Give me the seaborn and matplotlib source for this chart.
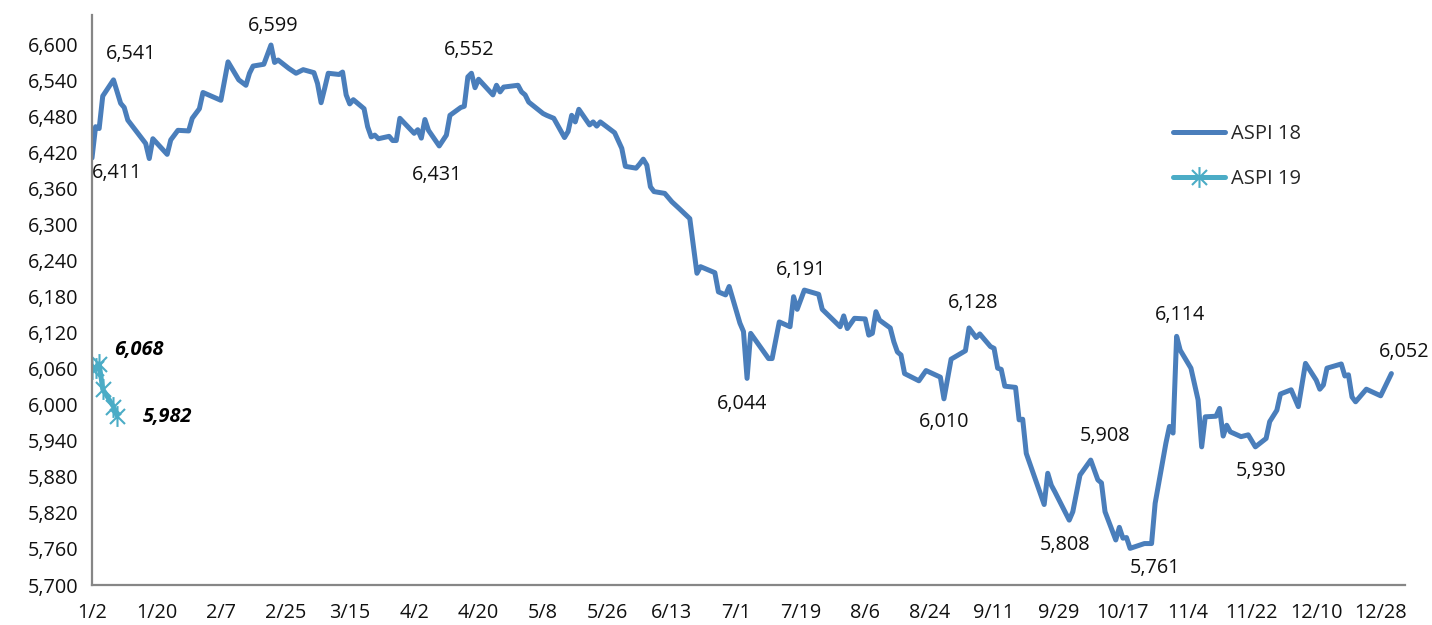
import datetime as dt

import matplotlib
matplotlib.use("Agg")
import matplotlib.pyplot as plt
import matplotlib.dates as mdates
from matplotlib.path import Path
import pandas as pd
import seaborn as sns

# ---- data -------------------------------------------------------------
aspi18_dates = [
    "01/02", "01/03", "01/04", "01/05", "01/08", "01/10", "01/11", "01/12",
    "01/16", "01/17", "01/18", "01/19", "01/23", "01/24", "01/26", "01/29",
    "01/30", "02/01", "02/02", "02/07", "02/09", "02/12", "02/14", "02/15",
    "02/16", "02/19", "02/21", "02/22", "02/23", "02/26", "02/28", "03/02",
    "03/05", "03/06", "03/07", "03/08", "03/09", "03/12", "03/13", "03/14",
    "03/15", "03/16", "03/19", "03/20", "03/21", "03/22", "03/23", "03/26",
    "03/27", "03/28", "03/29", "04/02", "04/03", "04/04", "04/05", "04/06",
    "04/09", "04/11", "04/12", "04/15", "04/16", "04/17", "04/18", "04/19",
    "04/20", "04/24", "04/25", "04/26", "04/27", "05/01", "05/02", "05/03",
    "05/04", "05/08", "05/09", "05/11", "05/14", "05/15", "05/16", "05/17",
    "05/18", "05/21", "05/22", "05/23", "05/24", "05/28", "05/30", "05/31",
    "06/03", "06/04", "06/05", "06/06", "06/07", "06/08", "06/11", "06/13",
    "06/15", "06/18", "06/20", "06/21", "06/25", "06/26", "06/28", "06/29",
    "07/02", "07/03", "07/04", "07/05", "07/10", "07/11", "07/13", "07/16",
    "07/17", "07/18", "07/20", "07/24", "07/25", "07/30", "07/31", "08/01",
    "08/03", "08/06", "08/07", "08/08", "08/09", "08/10", "08/13", "08/14",
    "08/15", "08/16", "08/17", "08/21", "08/23", "08/27", "08/28", "08/30",
    "09/03", "09/04", "09/06", "09/07", "09/10", "09/11", "09/12", "09/13",
    "09/14", "09/17", "09/18", "09/19", "09/20", "09/25", "09/26", "09/27",
    "09/28", "10/02", "10/03", "10/05", "10/08", "10/10", "10/11", "10/12",
    "10/15", "10/16", "10/17", "10/18", "10/19", "10/23", "10/25", "10/26",
    "10/29", "10/30", "10/31", "11/01", "11/02", "11/05", "11/07", "11/08",
    "11/09", "11/12", "11/13", "11/14", "11/15", "11/16", "11/19", "11/21",
    "11/23", "11/26", "11/27", "11/29", "11/30", "12/03", "12/05", "12/07",
    "12/10", "12/11", "12/12", "12/13", "12/17", "12/18", "12/19", "12/20",
    "12/21", "12/24", "12/28", "12/31",
]
aspi18_values = [
    6411, 6463, 6460, 6514, 6541, 6502, 6495, 6474,
    6443, 6435, 6410, 6443, 6417, 6441, 6457, 6456,
    6477, 6493, 6520, 6507, 6571, 6541, 6532, 6552,
    6564, 6567, 6599, 6570, 6574, 6560, 6552, 6558,
    6553, 6535, 6503, 6527, 6552, 6550, 6554, 6516,
    6501, 6508, 6493, 6463, 6446, 6449, 6443, 6447,
    6440, 6440, 6477, 6452, 6458, 6444, 6475, 6457,
    6431, 6449, 6482, 6495, 6497, 6546, 6552, 6528,
    6542, 6516, 6532, 6521, 6529, 6532, 6521, 6516,
    6504, 6485, 6482, 6477, 6445, 6455, 6482, 6471,
    6492, 6466, 6471, 6464, 6471, 6453, 6427, 6397,
    6394, 6401, 6409, 6399, 6363, 6355, 6352, 6338,
    6327, 6310, 6219, 6230, 6220, 6188, 6183, 6197,
    6136, 6122, 6044, 6119, 6077, 6077, 6138, 6130,
    6180, 6159, 6191, 6184, 6159, 6130, 6148, 6127,
    6144, 6143, 6116, 6119, 6155, 6141, 6128, 6105,
    6088, 6083, 6052, 6040, 6057, 6046, 6010, 6076,
    6090, 6128, 6112, 6118, 6097, 6094, 6061, 6059,
    6031, 6029, 5975, 5976, 5919, 5834, 5886, 5866,
    5855, 5808, 5822, 5883, 5908, 5875, 5870, 5822,
    5775, 5796, 5778, 5779, 5761, 5769, 5769, 5836,
    5936, 5964, 5953, 6114, 6091, 6061, 6008, 5930,
    5980, 5981, 5994, 5948, 5966, 5955, 5947, 5950,
    5930, 5944, 5972, 5991, 6018, 6025, 5997, 6069,
    6041, 6026, 6033, 6061, 6068, 6048, 6050, 6013,
    6005, 6026, 6015, 6052,
]
aspi19_dates = ["01/02", "01/03", "01/04", "01/05", "01/08", "01/09"]
aspi19_values = [6060, 6062, 6068, 6026, 5997, 5982]

series_names = ["ASPI 18", "ASPI 19"]
y_ticks = list(range(5700, 6601, 60))

# points that carry a value label, with label offsets (pixels)
callouts_18 = {
    "01/02": (25, -15), "01/08": (18, 26), "02/21": (2, 19),
    "04/09": (-2, -29), "04/18": (-2, 23), "07/04": (-5, -26),
    "07/20": (-3, 20), "08/28": (0, -23), "09/04": (4, 25),
    "10/02": (-4, -25), "10/08": (14, 24), "10/19": (25, -20),
    "11/01": (3, 21), "11/23": (6, -24), "12/31": (13, 22),
}
callouts_19 = {"01/04": (40, 14), "01/09": (50, -1)}


def to_date(md):
    m, d = md.split("/")
    return pd.Timestamp(2018, int(m), int(d))


df = pd.concat([
    pd.DataFrame({"date": [to_date(s) for s in aspi18_dates],
                  "value": aspi18_values, "series": series_names[0]}),
    pd.DataFrame({"date": [to_date(s) for s in aspi19_dates],
                  "value": aspi19_values, "series": series_names[1]}),
], ignore_index=True)

# ---- style ------------------------------------------------------------
sns.set_theme(style="white")
plt.rcParams["font.family"] = ["Open Sans", "DejaVu Sans"]

c18 = "#4A7EBB"
c19 = "#4BACC6"
axis_grey = "#868686"
fs = 14.3

# asterisk marker: vertical bar crossed by an X
star = Path(
    [(0, -1), (0, 1), (-0.72, -0.72), (0.72, 0.72), (-0.72, 0.72), (0.72, -0.72)],
    [Path.MOVETO, Path.LINETO, Path.MOVETO, Path.LINETO, Path.MOVETO, Path.LINETO],
)

fig = plt.figure(figsize=(14.32, 6.25), dpi=100)
ax = fig.add_axes([92 / 1432, 1 - 585 / 625, (1405 - 92) / 1432, (585 - 15) / 625])

sns.lineplot(data=df[df.series == series_names[0]], x="date", y="value",
             color=c18, lw=3.6, ax=ax, label=series_names[0],
             solid_capstyle="round", solid_joinstyle="round")
sns.lineplot(data=df[df.series == series_names[1]], x="date", y="value",
             color=c19, lw=3.6, ax=ax, label=series_names[1],
             marker=star, markersize=15, markeredgewidth=1.5,
             markeredgecolor=c19, markerfacecolor="none",
             solid_capstyle="round")

# ---- axes -------------------------------------------------------------
start = pd.Timestamp(2018, 1, 2)
ax.set_xlim(mdates.date2num(start), mdates.date2num(start) + 366.8)
ax.set_ylim(5700, 6649)

xt = [start + pd.Timedelta(days=18 * k) for k in range(21)]
ax.set_xticks([mdates.date2num(t) for t in xt])
ax.set_xticklabels([f"{t.month}/{t.day}" for t in xt])
ax.set_yticks(y_ticks)
ax.set_yticklabels([f"{v:,}" for v in y_ticks])

ax.set_xlabel("")
ax.set_ylabel("")
for side in ("top", "right"):
    ax.spines[side].set_visible(False)
for side in ("left", "bottom"):
    ax.spines[side].set_color(axis_grey)
    ax.spines[side].set_linewidth(1.6)
ax.tick_params(axis="both", direction="out", length=6, width=1.6,
               color=axis_grey, labelsize=fs, labelcolor="#111111")
ax.tick_params(axis="x", pad=7)
ax.tick_params(axis="y", pad=4)
ax.grid(False)

# ---- value labels -----------------------------------------------------
for md, (dx, dy) in callouts_18.items():
    v = aspi18_values[aspi18_dates.index(md)]
    ax.annotate(f"{v:,}", (mdates.date2num(to_date(md)), v),
                xytext=(dx, dy), textcoords="offset pixels",
                ha="center", va="center", fontsize=fs, color="#111111")
for md, (dx, dy) in callouts_19.items():
    v = aspi19_values[aspi19_dates.index(md)]
    ax.annotate(f"{v:,}", (mdates.date2num(to_date(md)), v),
                xytext=(dx, dy), textcoords="offset pixels",
                ha="center", va="center", fontsize=fs, color="#000000",
                fontweight="bold", fontstyle="italic")

# ---- legend -----------------------------------------------------------
leg = ax.legend(loc="upper left", bbox_to_anchor=(0.817, 0.823), frameon=False,
                fontsize=14.5, handlelength=2.6, handletextpad=0.3,
                labelspacing=1.25, borderaxespad=0)

fig.savefig("out.png", dpi=100)
